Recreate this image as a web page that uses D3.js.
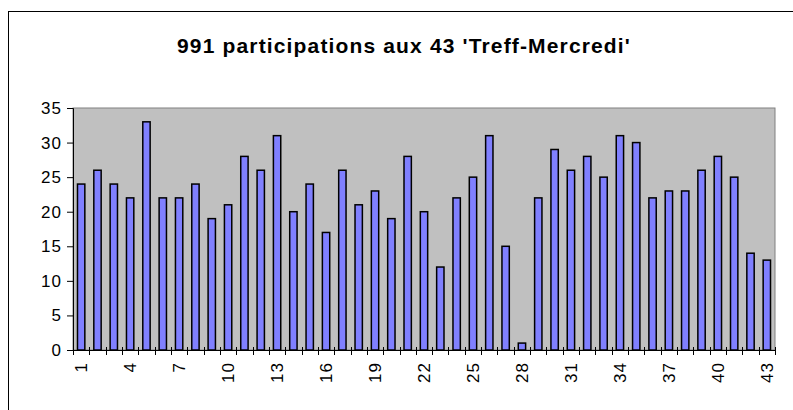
<!DOCTYPE html>
<html>
<head>
<meta charset="utf-8">
<script src="https://cdn.jsdelivr.net/npm/d3@7"></script>
<style>
  body { margin: 0; background: #fff; }
  svg { display: block; font-family: "Liberation Sans", Arial, sans-serif; }
</style>
</head>
<body>
<div id="chart"></div>
<script>
// data
var sessions = d3.range(1, 44);
var participants = [24, 26, 24, 22, 33, 22, 22, 24, 19, 21, 28, 26, 31, 20, 24, 17, 26, 21, 23, 19, 28, 20,
                    12, 22, 25, 31, 15, 1, 22, 29, 26, 28, 25, 31, 30, 22, 23, 23, 26, 28, 25, 14, 13];
var yTicks = [0, 5, 10, 15, 20, 25, 30, 35];
var xLabels = sessions.filter(function(d) { return (d - 1) % 3 == 0; });
var title = "991 participations aux 43 'Treff-Mercredi'";

const width = 793, height = 410;
const plot = {left: 73, right: 775, top: 108, bottom: 350};

var svg = d3.select("#chart")
    .append("svg")
        .attr("width", width)
        .attr("height", height);

// outer frame (runs off the right and bottom edge)
svg.append("rect")
    .attr("x", 8.5).attr("y", 11.5)
    .attr("width", 900).attr("height", 500)
    .attr("fill", "#fff")
    .attr("stroke", "#000")
    .attr("stroke-width", 1);

// Title
svg.append("text")
    .attr("x", 404)
    .attr("y", 53)
    .attr("text-anchor", "middle")
    .style("font-size", "21px")
    .style("font-weight", "bold")
    .style("letter-spacing", "1.15px")
    .text(title);

var xScale = d3.scaleBand()
    .domain(sessions)
    .range([plot.left, plot.right])
    .paddingInner(0.55)
    .paddingOuter(0.275);

var catScale = d3.scaleBand()
    .domain(sessions)
    .range([plot.left, plot.right]);

var yScale = d3.scaleLinear()
    .domain([0, 35])
    .range([plot.bottom, plot.top]);

// plot area
svg.append("rect")
    .attr("x", plot.left)
    .attr("y", plot.top)
    .attr("width", plot.right - plot.left)
    .attr("height", plot.bottom - plot.top)
    .attr("fill", "#c0c0c0")
    .attr("stroke", "#808080")
    .attr("stroke-width", 1);

// bars
svg.selectAll(".bar")
    .data(participants)
    .enter().append("rect")
    .attr("class", "bar")
    .attr("x", function(d, i) { return xScale(sessions[i]); })
    .attr("width", xScale.bandwidth())
    .attr("y", function(d) { return yScale(d); })
    .attr("height", function(d) { return yScale(0) - yScale(d); })
    .attr("fill", "#8080ff")
    .attr("stroke", "#000")
    .attr("stroke-width", 1.5);

//Y Axis
const yAxis = d3.axisLeft(yScale).tickValues(yTicks).tickSize(6).tickPadding(5);
svg.append("g")
    .attr("transform", `translate(${plot.left},0)`)
    .call(yAxis)
    .call(g => g.selectAll("text").style("font-size", "17px").style("letter-spacing", "1px").attr("fill", "#000"))
    .call(g => g.selectAll("line, path").attr("stroke", "#000"));

//X Axis: category separators
var bounds = sessions.map(function(d) { return catScale(d); }).concat([plot.right]);
var xg = svg.append("g");
xg.append("line")
    .attr("x1", plot.left).attr("x2", plot.right)
    .attr("y1", plot.bottom + 0.5).attr("y2", plot.bottom + 0.5)
    .attr("stroke", "#000");
xg.selectAll(".sep")
    .data(bounds)
    .enter().append("line")
    .attr("class", "sep")
    .attr("x1", function(d) { return Math.round(d) + 0.5; })
    .attr("x2", function(d) { return Math.round(d) + 0.5; })
    .attr("y1", plot.bottom - 3)
    .attr("y2", plot.bottom + 5)
    .attr("stroke", "#000");

xg.selectAll(".xlab")
    .data(xLabels)
    .enter().append("text")
    .attr("class", "xlab")
    .attr("transform", function(d) {
        return "translate(" + (catScale(d) + catScale.bandwidth() / 2) + "," + (plot.bottom + 12) + ") rotate(-90)";
    })
    .attr("dy", "0.35em")
    .attr("text-anchor", "end")
    .style("font-size", "17px")
    .style("letter-spacing", "1px")
    .text(function(d) { return d; });
</script>
</body>
</html>
